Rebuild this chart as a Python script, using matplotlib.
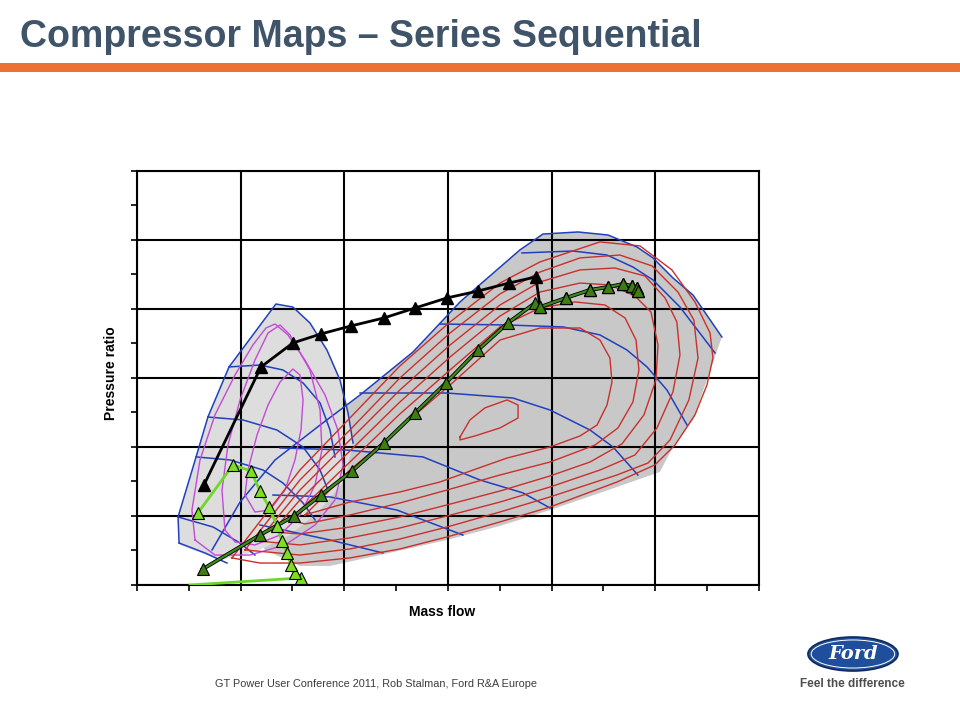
import matplotlib
matplotlib.use("Agg")
import matplotlib.pyplot as plt
from matplotlib.patches import Polygon, Ellipse, Rectangle
from matplotlib.ticker import MultipleLocator

# ------ DATA (mass flow in g/s, pressure ratio) ------

# operating points, big compressor (black)
black_flow = [32.3, 59.8, 75.2, 88.7, 103.2, 119.1, 134.1, 149.5, 164.5, 179.4, 192.4,
              194.4, 206.9, 218.5, 227.2, 234.4, 238.7, 241.2, 241.6]
black_pr = [1.725, 2.580, 2.754, 2.819, 2.877, 2.935, 3.007, 3.080, 3.130, 3.188, 3.232,
            3.014, 3.080, 3.138, 3.159, 3.181, 3.167, 3.152, 3.130]

# operating points, dark green series
dkgreen_flow = [31.8, 59.3, 75.7, 88.7, 103.7, 119.1, 134.1, 149.0, 164.5, 178.9, 192.0,
                194.4, 206.9, 218.5, 227.2, 234.4, 238.7, 241.2, 241.6]
dkgreen_pr = [1.116, 1.362, 1.500, 1.652, 1.826, 2.029, 2.246, 2.464, 2.703, 2.899, 3.043,
              3.014, 3.080, 3.138, 3.159, 3.181, 3.167, 3.152, 3.130]

# operating points, small compressor (light green) - first point has no marker
ltgreen_flow = [25.6, 79.1, 76.2, 74.3, 72.3, 69.9, 67.5, 63.7, 59.3, 55.0, 46.3, 29.4]
ltgreen_pr = [1.000, 1.051, 1.087, 1.145, 1.232, 1.319, 1.428, 1.565, 1.681, 1.826, 1.870, 1.522]

# big compressor map area
big_map = [(54.5, 1.688), (66.6, 1.906), (88.3, 2.159), (107.6, 2.377), (133.1, 2.688),
           (155.8, 3.051), (184.7, 3.428), (195.8, 3.543), (212.7, 3.558), (227.2, 3.536),
           (241.2, 3.449), (248.9, 3.370), (258.5, 3.225), (268.2, 3.101), (282.1, 2.797),
           (274.9, 2.486), (268.2, 2.196), (258.5, 2.000), (252.2, 1.819), (231.5, 1.710),
           (199.2, 1.543), (175.1, 1.428), (149.5, 1.326), (117.2, 1.217), (93.1, 1.138),
           (78.6, 1.138), (61.7, 1.254), (56.9, 1.399)]
big_outline = [(36.2, 1.254), (49.7, 1.601), (66.6, 1.906), (88.3, 2.159), (107.6, 2.377),
               (133.1, 2.688), (155.8, 3.051), (184.7, 3.428), (195.8, 3.543), (212.7, 3.558),
               (227.2, 3.536), (241.2, 3.449), (248.9, 3.370), (258.5, 3.225), (268.2, 3.101),
               (282.1, 2.797)]

# small compressor map area
small_map = [(67.0, 3.036), (75.2, 3.014), (83.4, 2.899), (91.6, 2.703), (97.9, 2.486),
             (101.8, 2.246), (104.2, 2.029), (100.3, 1.761), (88.3, 1.543), (73.8, 1.362),
             (56.9, 1.239), (40.0, 1.181), (20.7, 1.290), (19.8, 1.493), (28.5, 1.928),
             (34.2, 2.217), (44.4, 2.580)]
small_outline = [(20.3, 1.304), (19.8, 1.493), (28.5, 1.928), (34.2, 2.217), (44.4, 2.580),
                 (67.0, 3.036), (75.2, 3.014), (83.4, 2.899), (91.6, 2.703), (97.9, 2.486),
                 (101.8, 2.246), (104.2, 2.029)]

# speed lines, big map
big_speed = [
    [(185.7, 3.406), (210.3, 3.420), (226.7, 3.391), (239.2, 3.304), (248.9, 3.210), (261.9, 3.014), (278.8, 2.681)],
    [(146.1, 2.891), (178.5, 2.884), (205.5, 2.870), (223.3, 2.812), (236.3, 2.703), (246.0, 2.580), (255.6, 2.413), (265.3, 2.159)],
    [(107.6, 2.391), (149.5, 2.391), (181.3, 2.355), (199.2, 2.268), (218.5, 2.123), (229.6, 2.000), (241.6, 1.797)],
    [(69.0, 1.993), (101.3, 1.978), (137.9, 1.928), (165.4, 1.761), (186.2, 1.667), (199.2, 1.558)],
    [(65.6, 1.652), (93.1, 1.638), (125.4, 1.543), (157.2, 1.362)],
    [(59.3, 1.435), (93.1, 1.326), (118.6, 1.232)],
]

# speed lines, small map
small_speed = [
    [(44.4, 2.580), (59.3, 2.594), (70.4, 2.558), (80.1, 2.464), (88.3, 2.319), (93.1, 2.123), (95.5, 1.928)],
    [(34.2, 2.217), (51.1, 2.196), (67.5, 2.123), (80.1, 2.000), (88.3, 1.833), (92.1, 1.688)],
    [(28.5, 1.928), (44.9, 1.906), (60.8, 1.833), (70.4, 1.739), (80.1, 1.594), (85.9, 1.471)],
    [(19.8, 1.493), (36.7, 1.420), (49.7, 1.304), (56.9, 1.217)],
    [(20.3, 1.304), (32.8, 1.232), (43.4, 1.159)],
]

# efficiency contours, big map
big_eff = [
    [(155.8, 2.072), (160.6, 2.196), (167.8, 2.283), (178.5, 2.341), (183.8, 2.304), (183.8, 2.210),
     (175.1, 2.138), (163.0, 2.080), (155.8, 2.051), (155.8, 2.072)],
    [(81.0, 1.507), (102.7, 1.833), (126.8, 2.138), (151.0, 2.449), (175.1, 2.775), (194.4, 2.862),
     (213.7, 2.862), (223.3, 2.775), (228.1, 2.645), (229.1, 2.471), (226.7, 2.304), (221.9, 2.159),
     (213.7, 2.080), (199.2, 2.000), (178.5, 1.920), (162.1, 1.833), (146.1, 1.746), (126.8, 1.674),
     (102.7, 1.601), (85.9, 1.529), (81.0, 1.507)],
    [(73.8, 1.471), (78.6, 1.543), (102.7, 1.891), (126.8, 2.239), (151.0, 2.558), (175.1, 2.870),
     (194.4, 3.007), (211.2, 3.051), (225.7, 3.029), (235.4, 2.935), (240.7, 2.775), (242.1, 2.558),
     (239.2, 2.326), (232.0, 2.138), (220.9, 2.014), (199.2, 1.891), (175.1, 1.797), (149.5, 1.688),
     (126.8, 1.594), (102.7, 1.507), (81.0, 1.442), (73.8, 1.471)],
    [(65.1, 1.384), (78.6, 1.616), (102.7, 1.971), (126.8, 2.326), (151.0, 2.652), (175.1, 2.949),
     (194.4, 3.123), (213.7, 3.188), (228.1, 3.174), (240.2, 3.094), (247.9, 2.978), (251.3, 2.739),
     (250.3, 2.486), (244.5, 2.232), (233.9, 2.022), (218.5, 1.891), (199.2, 1.790), (175.1, 1.681),
     (149.5, 1.580), (126.8, 1.493), (102.7, 1.420), (78.6, 1.370), (65.1, 1.384)],
    [(58.4, 1.319), (78.6, 1.688), (102.7, 2.051), (126.8, 2.413), (151.0, 2.739), (175.1, 3.029),
     (194.4, 3.196), (213.7, 3.283), (230.5, 3.297), (245.0, 3.239), (254.7, 3.080), (260.4, 2.906),
     (261.9, 2.667), (258.5, 2.399), (250.8, 2.138), (240.2, 1.942), (223.3, 1.833), (199.2, 1.710),
     (175.1, 1.601), (149.5, 1.500), (126.8, 1.413), (102.7, 1.341), (78.6, 1.290), (58.4, 1.319)],
    [(52.1, 1.254), (78.6, 1.761), (102.7, 2.123), (126.8, 2.500), (151.0, 2.826), (175.1, 3.109),
     (194.4, 3.268), (213.7, 3.370), (232.9, 3.391), (248.4, 3.312), (260.9, 3.123), (268.6, 2.920),
     (270.6, 2.645), (266.2, 2.341), (257.1, 2.051), (246.5, 1.884), (231.5, 1.797), (199.2, 1.638),
     (175.1, 1.529), (149.5, 1.420), (126.8, 1.333), (102.7, 1.261), (78.6, 1.217), (52.1, 1.254)],
    [(45.8, 1.196), (61.7, 1.507), (78.6, 1.833), (102.7, 2.210), (126.8, 2.587), (151.0, 2.906),
     (175.1, 3.188), (194.4, 3.341), (223.3, 3.486), (242.6, 3.457), (258.0, 3.283), (269.1, 3.051),
     (276.4, 2.826), (277.8, 2.645), (274.9, 2.449), (269.1, 2.232), (259.5, 2.014), (249.8, 1.870),
     (231.5, 1.746), (199.2, 1.565), (175.1, 1.457), (149.5, 1.348), (126.8, 1.261), (102.7, 1.196),
     (78.6, 1.159), (59.3, 1.159), (45.8, 1.196)],
]

# efficiency contours, small map
small_eff = [
    [(52.1, 1.652), (53.5, 1.833), (57.9, 2.087), (63.2, 2.304), (69.0, 2.471), (75.2, 2.565),
     (78.6, 2.522), (80.1, 2.341), (79.1, 2.123), (76.2, 1.906), (71.4, 1.688), (64.1, 1.543),
     (56.9, 1.529), (52.1, 1.652)],
    [(42.4, 1.399), (41.0, 1.688), (43.9, 2.014), (49.7, 2.341), (56.9, 2.630), (63.2, 2.826),
     (69.0, 2.884), (73.8, 2.812), (83.4, 2.558), (88.3, 2.268), (89.2, 1.978), (85.9, 1.725),
     (78.6, 1.507), (69.0, 1.362), (56.9, 1.290), (47.3, 1.312), (42.4, 1.399)],
    [(28.0, 1.326), (26.5, 1.543), (30.4, 1.906), (37.6, 2.232), (47.3, 2.522), (55.9, 2.739),
     (62.2, 2.862), (66.6, 2.891), (72.8, 2.812), (81.0, 2.630), (90.7, 2.377), (96.9, 2.123),
     (99.4, 1.870), (95.5, 1.616), (85.9, 1.435), (71.4, 1.290), (54.5, 1.217), (37.6, 1.217),
     (28.0, 1.326)],
]

# ------ FIGURE ------

fig = plt.figure(figsize=(9.6, 7.19), dpi=100)
fig.patch.set_facecolor("white")

# title and orange bar
fig.text(0.021, 0.9346, "Compressor Maps \u2013 Series Sequential", fontsize=27, fontweight="bold",
         family="Liberation Sans", color="#3f5468", ha="left", va="baseline")
fig.add_artist(Rectangle((0, 0.8999), 1, 0.0125, transform=fig.transFigure,
                         facecolor="#eb7134", edgecolor="none"))

ax = fig.add_axes([0.1427, 0.1864, 0.6479, 0.5758])
ax.set_xlim(0, 300)
ax.set_ylim(1, 4)

# map areas
ax.add_patch(Polygon(big_map, closed=True, facecolor="#c8c8c8", edgecolor="none", zorder=0.5))
ax.add_patch(Polygon(small_map, closed=True, facecolor="#dddddd", edgecolor="none", zorder=0.6))

blue = "#2140bd"
for line in big_speed + small_speed:
    xs, ys = zip(*line)
    ax.plot(xs, ys, color=blue, lw=1.1, zorder=2)
for line in (big_outline, small_outline):
    xs, ys = zip(*line)
    ax.plot(xs, ys, color=blue, lw=1.1, zorder=2)

for line in small_eff:
    xs, ys = zip(*line)
    ax.plot(xs, ys, color="#c44ad6", lw=1.0, zorder=2.1)
for line in big_eff:
    xs, ys = zip(*line)
    ax.plot(xs, ys, color="#c9302c", lw=1.0, zorder=2.1)

# operating lines
ax.plot(black_flow, black_pr, color="black", lw=2, marker="^", ms=8,
        markerfacecolor="black", markeredgecolor="black", zorder=3)
ax.plot(dkgreen_flow, dkgreen_pr, color="black", lw=2.8, zorder=3.1)
ax.plot(dkgreen_flow, dkgreen_pr, color="#3f8a1c", lw=1.6, marker="^", ms=8,
        markerfacecolor="#3d7d12", markeredgecolor="black", markeredgewidth=0.8, zorder=3.2)
ax.plot(ltgreen_flow, ltgreen_pr, color="#6ed82a", lw=2, zorder=3.3)
ax.plot(ltgreen_flow[1:], ltgreen_pr[1:], linestyle="none", marker="^", ms=8,
        markerfacecolor="#7ede22", markeredgecolor="black", markeredgewidth=0.8, zorder=3.4)

# axes look
ax.xaxis.set_major_locator(MultipleLocator(50))
ax.xaxis.set_minor_locator(MultipleLocator(25))
ax.yaxis.set_major_locator(MultipleLocator(0.5))
ax.yaxis.set_minor_locator(MultipleLocator(0.25))
ax.tick_params(which="both", direction="out", length=4, width=1.2,
               labelbottom=False, labelleft=False)
ax.grid(True, which="major", color="black", lw=1.5)
for s in ax.spines.values():
    s.set_linewidth(1.5)

fig.text(0.1156, 0.481, "Pressure ratio", rotation=90, fontsize=10, fontweight="bold",
         family="Liberation Sans", ha="center", va="center")
fig.text(0.4604, 0.1488, "Mass flow", fontsize=10, fontweight="bold",
         family="Liberation Sans", ha="center", va="center")

# footer
fig.text(0.224, 0.0487, "GT Power User Conference 2011, Rob Stalman, Ford R&A Europe", fontsize=7.8,
         family="Liberation Sans", color="#3c3c3c", ha="left", va="center")
fig.add_artist(Ellipse((0.8885, 0.0904), 0.0938, 0.0473, transform=fig.transFigure,
                       facecolor="#1f4f9c", edgecolor="#0e2a5c", lw=1.2))
fig.add_artist(Ellipse((0.8885, 0.0904), 0.087, 0.039, transform=fig.transFigure,
                       facecolor="none", edgecolor="white", lw=0.7))
fig.text(0.8885, 0.0904, "Ford", fontsize=14, style="italic", fontweight="bold",
         family="DejaVu Serif", color="white", ha="center", va="center")
fig.text(0.8875, 0.0487, "Feel the difference", fontsize=8.5, fontweight="bold",
         family="Liberation Sans", color="#4d4d4d", ha="center", va="center")

fig.savefig("out.png", dpi=100)
